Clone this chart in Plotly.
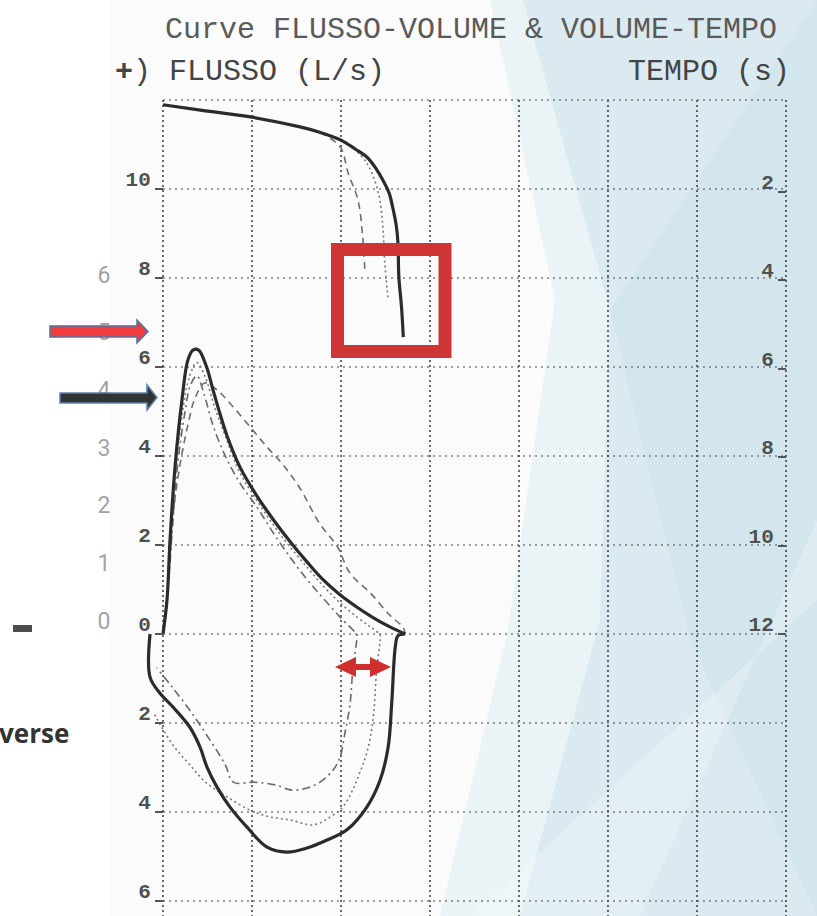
import plotly.graph_objects as go

W, H = 817, 916

# ---------------- data ----------------
# Flow-volume loop, best manoeuvre (volume in L, flow in L/s, inspiration negative)
best_exp_vol = [0, 0.045, 0.079, 0.135, 0.213, 0.28, 0.337, 0.40, 0.49, 0.56, 0.64, 0.72,
                0.865, 1.056, 1.236, 1.427, 1.618, 1.798, 1.989, 2.18, 2.36, 2.55, 2.72]
best_exp_flow = [0, 0.76, 2.11, 3.75, 5.26, 6.16, 6.38, 6.38, 6.0, 5.5, 4.95, 4.45,
                 3.75, 3.1, 2.58, 2.08, 1.62, 1.22, 0.88, 0.6, 0.37, 0.16, 0]
best_insp_vol = [2.72, 2.64, 2.61, 2.57, 2.53, 2.44, 2.29, 2.067, 1.843, 1.618, 1.393, 1.169,
                 0.944, 0.753, 0.607, 0.494, 0.416, 0.30, 0.112, -0.034, -0.146, -0.146]
best_insp_flow = [0, -0.04, -0.29, -1.55, -2.54, -3.28, -3.89, -4.40, -4.63, -4.81, -4.90, -4.79,
                  -4.34, -3.89, -3.44, -2.99, -2.54, -2.09, -1.64, -1.33, -0.97, 0]

# Second manoeuvre (long dashes)
trial2_vol = [0, 0.06, 0.12, 0.2, 0.28, 0.36, 0.47, 0.61, 0.75, 0.98, 1.17, 1.35, 1.54,
              1.76, 1.96, 2.10, 2.33, 2.55, 2.70, 2.72]
trial2_flow = [0, 1.2, 2.8, 3.9, 4.7, 5.3, 5.64, 5.48, 5.19, 4.65, 4.20, 3.8, 3.27,
               2.48, 1.96, 1.37, 0.92, 0.42, 0.14, 0]

# Third manoeuvre (dotted)
trial3_exp_vol = [0, 0.05, 0.09, 0.15, 0.22, 0.3, 0.38, 0.47, 0.58, 0.7, 0.865, 1.056, 1.24,
                  1.43, 1.62, 1.8, 1.99, 2.18, 2.33, 2.44]
trial3_exp_flow = [0, 1.0, 2.3, 3.8, 5.0, 5.8, 6.1, 5.8, 5.1, 4.45, 3.62, 3.0, 2.45,
                   1.95, 1.5, 1.08, 0.7, 0.38, 0.16, 0]
trial3_insp_vol = [2.44, 2.44, 2.40, 2.36, 2.29, 2.21, 2.13, 2.02, 1.88, 1.69, 1.43, 1.20,
                   0.98, 0.72, 0.49, 0.30, 0.11, -0.03, -0.11]
trial3_insp_flow = [0, -0.13, -0.81, -1.93, -2.67, -3.12, -3.51, -3.89, -4.11, -4.29, -4.18, -4.11,
                    -3.96, -3.66, -3.35, -2.94, -2.49, -2.04, -1.75]

# Fourth manoeuvre (dash-dot)
trial4_exp_vol = [0, 0.06, 0.11, 0.17, 0.24, 0.31, 0.38, 0.46, 0.56, 0.7, 0.865, 1.056, 1.24,
                  1.43, 1.62, 1.8, 1.99, 2.18]
trial4_exp_flow = [0, 1.1, 2.5, 3.9, 4.9, 5.6, 5.8, 5.4, 4.7, 4.0, 3.39, 2.85, 2.27,
                   1.72, 1.22, 0.8, 0.38, 0]
trial4_insp_vol = [2.18, 2.18, 2.13, 2.10, 2.04, 1.99, 1.91, 1.73, 1.46, 1.26, 1.03, 0.79,
                   0.70, 0.49, 0.30, 0.11, -0.07]
trial4_insp_flow = [0, -0.07, -0.88, -1.6, -2.27, -2.76, -3.06, -3.37, -3.51, -3.39, -3.33, -3.33,
                    -2.94, -2.27, -1.71, -1.21, -0.76]

# Volume-time curves (volume in L, time in s)
vt_best_vol = [0, 0.42, 1.0, 1.54, 1.76, 2.0, 2.16, 2.29, 2.39, 2.47, 2.54, 2.58, 2.62,
               2.64, 2.65, 2.68, 2.70]
vt_best_time = [0.04, 0.16, 0.32, 0.54, 0.66, 0.84, 1.04, 1.22, 1.47, 1.74, 2.03, 2.35, 2.76,
                3.16, 3.93, 4.61, 5.29]
vt_trial2_vol = [1.76, 1.99, 2.08, 2.19, 2.24, 2.27]
vt_trial2_time = [0.66, 0.99, 1.58, 2.19, 2.94, 3.84]
vt_trial3_vol = [2.10, 2.29, 2.42, 2.47, 2.49, 2.53]
vt_trial3_time = [0.95, 1.36, 2.03, 2.80, 3.55, 4.45]

# Axis ticks and grid
flow_tickvals = [-6, -4, -2, 0, 2, 4, 6, 8, 10]
flow_ticktext = ["6", "4", "2", "0", "2", "4", "6", "8", "10"]
time_tickvals = [2, 4, 6, 8, 10, 12]
grid_vol = [0, 1, 2, 3, 4, 5, 6, 7]
grid_flow = [-6, -4, -2, 0, 2, 4, 6, 8, 10, 12]
side_scale = ["0", "1", "2", "3", "4", "5", "6"]

# ---------------- geometry ----------------
X0, XS = 163, 89.0        # pixel of volume 0, pixels per litre
Y0, YS = 634, 44.5        # pixel of flow 0, pixels per L/s
T0, TS = 103, 44.25       # pixel of time 0, pixels per second
X_RANGE = [(0 - X0) / XS, (W - X0) / XS]
Y_RANGE = [(Y0 - H) / YS, Y0 / YS]
T_RANGE = [(H - T0) / TS, (0 - T0) / TS]


def fx(px):
    return px / W


def fy(py):
    return 1 - py / H


def poly(points):
    return "M " + " L ".join(f"{fx(a):.5f},{fy(b):.5f}" for a, b in points) + " Z"


fig = go.Figure()

# ---------------- grid ----------------
gx, gy = [], []
for v in grid_vol:
    gx += [v, v, None]
    gy += [grid_flow[-1], Y_RANGE[0], None]
fig.add_trace(go.Scatter(x=gx, y=gy, mode="lines", hoverinfo="skip", showlegend=False,
                         line=dict(color="rgba(50,50,50,0.85)", width=1.7, dash="2px,3px")))
hx, hy = [], []
for f in grid_flow:
    hx += [grid_vol[0], grid_vol[-1], None]
    hy += [f, f, None]
fig.add_trace(go.Scatter(x=hx, y=hy, mode="lines", hoverinfo="skip", showlegend=False,
                         line=dict(color="rgba(75,75,75,0.7)", width=1.4, dash="2px,4px")))

# ---------------- curves ----------------
grey_dash = dict(color="#6e6e6e", width=1.6, dash="7px,5px")
grey_dot = dict(color="#7a7a7a", width=1.6, dash="2px,3px")
grey_dashdot = dict(color="#6a6a6a", width=1.6, dash="8px,4px,2px,4px")
solid = dict(color="#2b2b2b", width=3.2)

fig.add_trace(go.Scatter(x=trial2_vol, y=trial2_flow, mode="lines", line=grey_dash,
                         line_shape="spline", showlegend=False))
fig.add_trace(go.Scatter(x=trial3_exp_vol + trial3_insp_vol, y=trial3_exp_flow + trial3_insp_flow,
                         mode="lines", line=grey_dot, line_shape="spline", showlegend=False))
fig.add_trace(go.Scatter(x=trial4_exp_vol + trial4_insp_vol, y=trial4_exp_flow + trial4_insp_flow,
                         mode="lines", line=grey_dashdot, line_shape="spline", showlegend=False))
fig.add_trace(go.Scatter(x=best_exp_vol + best_insp_vol, y=best_exp_flow + best_insp_flow,
                         mode="lines", line=solid, line_shape="spline", showlegend=False))

fig.add_trace(go.Scatter(x=vt_trial2_vol, y=vt_trial2_time, yaxis="y2", mode="lines",
                         line=grey_dash, line_shape="spline", showlegend=False))
fig.add_trace(go.Scatter(x=vt_trial3_vol, y=vt_trial3_time, yaxis="y2", mode="lines",
                         line=grey_dot, line_shape="spline", showlegend=False))
fig.add_trace(go.Scatter(x=vt_best_vol, y=vt_best_time, yaxis="y2", mode="lines",
                         line=solid, line_shape="spline", showlegend=False))

# scale of the neighbouring slide chart (partly hidden by the arrows)
side_px = [623 - 57.7 * i for i in range(len(side_scale))]
fig.add_trace(go.Scatter(x=[(104 - X0) / XS] * len(side_scale),
                         y=[(Y0 - p) / YS for p in side_px],
                         mode="text", text=side_scale, hoverinfo="skip", showlegend=False,
                         textfont=dict(family="Liberation Sans Narrow, Roboto, sans-serif",
                                       size=23, color="#a3a3a3")))

# ---------------- background & decorations ----------------
shapes = [
    dict(type="rect", xref="paper", yref="paper", x0=fx(110), x1=1, y0=0, y1=1,
         fillcolor="#fbfbfb", line_width=0, layer="below"),
    dict(type="path", xref="paper", yref="paper", layer="below", line_width=0,
         fillcolor="#eaf3f6",
         path=poly([(490, 0), (W, 0), (W, H), (440, H), (508, 630), (555, 300)])),
    dict(type="path", xref="paper", yref="paper", layer="below", line_width=0,
         fillcolor="rgba(185,215,227,0.32)",
         path=poly([(523, 0), (W, 0), (W, H), (520, H), (600, 620), (610, 310)])),
    dict(type="path", xref="paper", yref="paper", layer="below", line_width=0,
         fillcolor="rgba(185,215,227,0.18)",
         path=poly([(610, 310), (W, 0), (W, H), (690, 640)])),
    dict(type="path", xref="paper", yref="paper", layer="below", line_width=0,
         fillcolor="rgba(255,255,255,0.25)",
         path=poly([(470, H), (640, H), (W, 520), (W, 600)])),
    # highlight box at the end of the volume-time curve
    dict(type="rect", xref="paper", yref="paper", x0=fx(337.5), x1=fx(445), y0=fy(351.5), y1=fy(249.5),
         line=dict(color="#cf3535", width=13), fillcolor="rgba(0,0,0,0)", layer="above"),
    # double arrow at end of expiration
    dict(type="path", xref="paper", yref="paper", layer="above", line_width=0, fillcolor="#cf2f2f",
         path=poly([(335, 667), (356, 657), (356, 664), (370, 664), (370, 657), (391, 667),
                    (370, 677), (370, 670), (356, 670), (356, 677)])),
    # red arrow
    dict(type="path", xref="paper", yref="paper", layer="above", fillcolor="#f03c3c",
         line=dict(color="#4d73a8", width=1.5),
         path=poly([(50, 326), (137, 326), (137, 320), (148, 331.5), (137, 343), (137, 337), (50, 337)])),
    # dark arrow
    dict(type="path", xref="paper", yref="paper", layer="above", fillcolor="#333333",
         line=dict(color="#5b80b4", width=1.5),
         path=poly([(60, 393), (147, 393), (147, 385), (157, 397.5), (147, 410), (147, 403), (60, 403)])),
    dict(type="rect", xref="paper", yref="paper", x0=fx(13), x1=fx(32), y0=fy(632), y1=fy(625),
         fillcolor="#4d4d4d", line_width=0, layer="above"),
]

mono = "Liberation Mono, DejaVu Sans Mono, monospace"
annotations = [
    dict(text="Curve FLUSSO-VOLUME & VOLUME-TEMPO", x=fx(163), y=fy(30), xref="paper", yref="paper",
         xanchor="left", yanchor="middle", showarrow=False,
         font=dict(family=mono, size=30, color="#5a5a5a")),
    dict(text="<b>+</b>) FLUSSO (L/s)", x=fx(113), y=fy(72), xref="paper", yref="paper",
         xanchor="left", yanchor="middle", showarrow=False,
         font=dict(family=mono, size=30, color="#444444")),
    dict(text="TEMPO (s)", x=fx(792), y=fy(72), xref="paper", yref="paper",
         xanchor="right", yanchor="middle", showarrow=False,
         font=dict(family=mono, size=30, color="#444444")),
    dict(text="<b>verse</b>", x=fx(71), y=fy(733), xref="paper", yref="paper",
         xanchor="right", yanchor="middle", showarrow=False,
         font=dict(family="Open Sans, sans-serif", size=26, color="#333333")),
]

tickfont = dict(family=mono, size=21, color="#505050", weight="bold")
fig.update_layout(
    width=W, height=H, margin=dict(l=0, r=0, t=0, b=0),
    paper_bgcolor="white", plot_bgcolor="rgba(0,0,0,0)",
    xaxis=dict(range=X_RANGE, visible=False, fixedrange=True),
    yaxis=dict(range=Y_RANGE, anchor="free", position=fx(X0), side="left",
               tickvals=flow_tickvals, ticktext=flow_ticktext, ticks="outside", ticklen=8,
               tickwidth=2, tickcolor="#555555", tickfont=tickfont, ticklabelshift=-10,
               ticklabelstandoff=0, showgrid=False, zeroline=False, showline=False),
    yaxis2=dict(range=T_RANGE, overlaying="y", anchor="free", position=fx(786), side="left",
                tickvals=time_tickvals, ticks="outside", ticklen=8, tickwidth=2,
                tickcolor="#555555", tickfont=tickfont, ticklabelshift=10, ticklabelstandoff=0,
                showgrid=False, zeroline=False, showline=False),
    shapes=shapes, annotations=annotations, showlegend=False,
)

fig.write_html("out.html")
